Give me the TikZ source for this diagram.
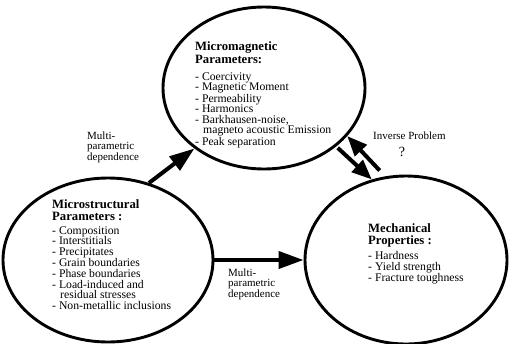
\documentclass[tikz,border=0pt]{standalone}
\usepackage{fontspec}
\setmainfont{Liberation Serif}
\usetikzlibrary{shapes.geometric,arrows.meta}
\begin{document}
\begin{tikzpicture}[x=1pt,y=-1pt,
  ell/.style={ellipse, draw, line width=2.9pt, inner sep=0pt},
  bigarrow/.style={line width=4pt, -{Triangle[length=25pt,width=17pt]}},
  midarrow/.style={line width=4pt, -{Triangle[length=20pt,width=16pt]}},
  ttl/.style={anchor=base west, inner sep=0pt, font=\fontsize{12.7}{13}\selectfont\bfseries},
  itm/.style={anchor=base west, inner sep=0pt, font=\fontsize{11.7}{10.6}\selectfont},
  lbl/.style={anchor=base west, inner sep=0pt, font=\fontsize{11}{10.8}\selectfont}]
\useasboundingbox (0,0) rectangle (510,343);
% ellipses
\node[ell, minimum width=202pt, minimum height=162pt] (T) at (264,88) {};
\node[ell, minimum width=210pt, minimum height=164pt] (L) at (108,260) {};
\node[ell, minimum width=202pt, minimum height=168pt] (R) at (406,260) {};
% top content
\node[ttl] (tt) at (195,50) {\vtop{\baselineskip=13pt\hbox{Micromagnetic}\hbox{Parameters:}}};
\node[itm] (ti) at (195,80) {\vtop{\baselineskip=10.5pt
  \hbox{- Coercivity}\hbox{- Magnetic Moment}\hbox{- Permeability}\hbox{- Harmonics}
  \hbox{- Barkhausen-noise,}\hbox{\hspace{8pt}magneto acoustic Emission}\hbox{- Peak separation}}};
% left content
\node[ttl] (lt) at (52,208) {\vtop{\baselineskip=12.5pt\hbox{Microstructural}\hbox{Parameters :}}};
\node[itm] (li) at (52,234) {\vtop{\baselineskip=10.8pt
  \hbox{- Composition}\hbox{- Interstitials}\hbox{- Precipitates}\hbox{- Grain boundaries}
  \hbox{- Phase boundaries}\hbox{- Load-induced and}\hbox{\hspace{8pt}residual stresses}
  \hbox{- Non-metallic inclusions}}};
% right content
\node[ttl] (rt) at (368,232) {\vtop{\baselineskip=12.5pt\hbox{Mechanical}\hbox{Properties :}}};
\node[itm] (ri) at (368,259.5) {\vtop{\baselineskip=10.6pt
  \hbox{- Hardness}\hbox{- Yield strength}\hbox{- Fracture toughness}}};
% labels
\node[lbl] (m1) at (87,139) {\vtop{\baselineskip=10.8pt\hbox{Multi-}\hbox{parametric}\hbox{dependence}}};
\node[lbl] (m2) at (228,276) {\vtop{\baselineskip=10.8pt\hbox{Multi-}\hbox{parametric}\hbox{dependence}}};
\node[lbl] (inv) at (373,139) {Inverse Problem};
\node[anchor=base, inner sep=0pt, font=\fontsize{14}{14}\selectfont] (q) at (402,156) {?};
% arrows
\draw[bigarrow] (L.62) -- (T.221);
\draw[bigarrow] (L.0) -- (R.180);
\draw[midarrow, shorten <=2pt] (T.321) -- (R.113);
\draw[midarrow, shorten <=8pt] (R.104) -- (T.330);
\end{tikzpicture}
\end{document}
